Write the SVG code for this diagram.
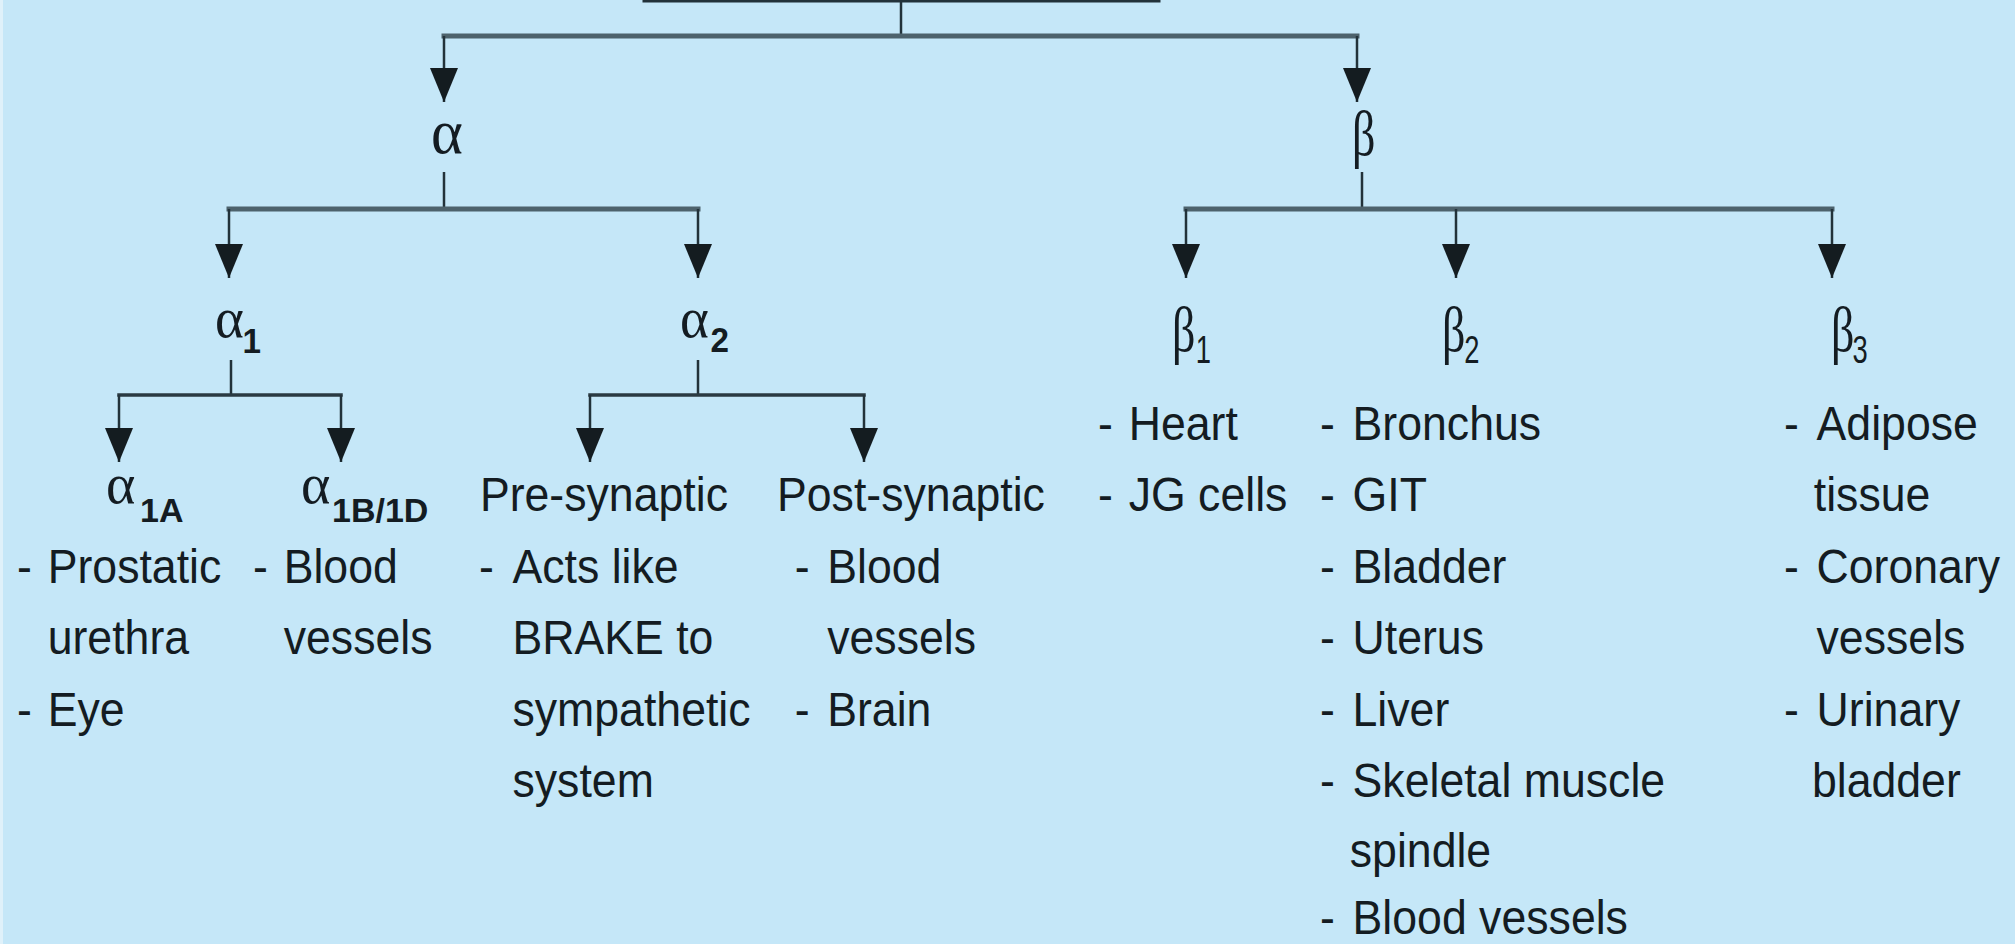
<svg xmlns="http://www.w3.org/2000/svg" xmlns:xlink="http://www.w3.org/1999/xlink" width="2015" height="944" viewBox="0 0 2015 944">
<style>
.bg{fill:#c5e7f8}
.t{font-family:"Liberation Sans",Arial,sans-serif;font-size:48px;fill:#141c22}
.gk{font-family:"Liberation Serif","Times New Roman",serif;fill:#141c22}
.sb{font-family:"Liberation Sans",Arial,sans-serif;font-weight:bold;fill:#141c22}
.sr{font-family:"Liberation Sans",Arial,sans-serif;fill:#141c22}
.thick{stroke:#4d626c;stroke-width:5;fill:none;stroke-linecap:square}
.thin{stroke:#22323a;stroke-width:2.5;fill:none}
.mid{stroke:#2a3a42;stroke-width:3.5;fill:none;stroke-linecap:square}
.box{stroke:#22323a;stroke-width:3;fill:none}
</style>
<defs>
<marker id="arr" viewBox="0 0 34 28" refX="34" refY="14" markerWidth="34" markerHeight="28" markerUnits="userSpaceOnUse" orient="auto">
<path d="M0,0 L34,14 L0,28 Z" fill="#141c20"/>
</marker>
</defs>
<rect class="bg" x="0" y="0" width="2015" height="944"/>
<rect x="0" y="0" width="3" height="944" fill="#dff1fa"/>

<g id="root">
<rect class="box" x="644" y="-60" width="515" height="61"/>
</g>

<g id="connectors">
<path class="thin" d="M901,2 V36"/>
<path class="thick" d="M444,36 H1357"/>
<path class="thin" d="M444,36 V102" marker-end="url(#arr)"/>
<path class="thin" d="M1357,36 V102" marker-end="url(#arr)"/>
<path class="thin" d="M444,172 V209"/>
<path class="thin" d="M1362,172 V209"/>
<path class="thick" d="M229,209 H698"/>
<path class="thick" d="M1186,209 H1832"/>
<path class="thin" d="M229,209 V278" marker-end="url(#arr)"/>
<path class="thin" d="M698,209 V278" marker-end="url(#arr)"/>
<path class="thin" d="M1186,209 V278" marker-end="url(#arr)"/>
<path class="thin" d="M1456,209 V278" marker-end="url(#arr)"/>
<path class="thin" d="M1832,209 V278" marker-end="url(#arr)"/>
<path class="thin" d="M231,360 V395"/>
<path class="thin" d="M698,360 V395"/>
<path class="mid" d="M119,395 H341"/>
<path class="mid" d="M590,395 H864"/>
<path class="thin" d="M119,395 V462" marker-end="url(#arr)"/>
<path class="thin" d="M341,395 V462" marker-end="url(#arr)"/>
<path class="thin" d="M590,395 V462" marker-end="url(#arr)"/>
<path class="thin" d="M864,395 V462" marker-end="url(#arr)"/>
</g>

<g id="alpha">
<text class="gk" font-size="64" transform="matrix(0.95 0 0 1 431 153)">α</text>
</g>
<g id="beta">
<text class="gk" font-size="64" transform="matrix(0.72 0 0 1 1352 155)">β</text>
</g>

<g id="alpha1">
<text class="gk" font-size="58" transform="matrix(0.95 0 0 1 215 337)">α<tspan class="sb" font-size="35" x="29" y="16">1</tspan></text>
</g>
<g id="alpha2">
<text class="gk" font-size="58" transform="matrix(0.95 0 0 1 680 337)">α<tspan class="sb" font-size="35" x="32" y="15">2</tspan></text>
</g>

<g id="alpha1A">
<text class="gk" font-size="56" transform="matrix(1 0 0 1 106 503)">α<tspan class="sb" font-size="34" x="34" y="19">1A</tspan></text>
<g transform="matrix(0.93 0 0 1 17 0)">
<text class="t" x="0" y="583">- <tspan x="33">Prostatic</tspan></text>
<text class="t" x="33" y="654">urethra</text>
<text class="t" x="0" y="726">- <tspan x="33">Eye</tspan></text>
</g>
</g>

<g id="alpha1BD">
<text class="gk" font-size="56" transform="matrix(1 0 0 1 301 503)">α<tspan class="sb" font-size="34" x="31" y="19">1B/1D</tspan></text>
<g transform="matrix(0.93 0 0 1 253 0)">
<text class="t" x="0" y="583">- <tspan x="33">Blood</tspan></text>
<text class="t" x="33" y="654">vessels</text>
</g>
</g>

<g id="presynaptic">
<g transform="matrix(0.93 0 0 1 479 0)">
<text class="t" x="1" y="511">Pre-synaptic</text>
<text class="t" x="0" y="583">- <tspan x="36">Acts like</tspan></text>
<text class="t" x="36" y="654">BRAKE to</text>
<text class="t" x="36" y="726">sympathetic</text>
<text class="t" x="36" y="797">system</text>
</g>
</g>

<g id="postsynaptic">
<g transform="matrix(0.93 0 0 1 777 0)">
<text class="t" x="0" y="511">Post-synaptic</text>
<text class="t" x="19" y="583">- <tspan x="54">Blood</tspan></text>
<text class="t" x="54" y="654">vessels</text>
<text class="t" x="19" y="726">- <tspan x="54">Brain</tspan></text>
</g>
</g>

<g id="beta1">
<text class="gk" font-size="64" transform="matrix(0.72 0 0 1 1172 351)">β<tspan class="sr" font-size="38" x="33" y="12">1</tspan></text>
<g transform="matrix(0.93 0 0 1 1098 0)">
<text class="t" x="0" y="440">- <tspan x="33">Heart</tspan></text>
<text class="t" x="0" y="511">- <tspan x="33">JG cells</tspan></text>
</g>
</g>

<g id="beta2">
<text class="gk" font-size="64" transform="matrix(0.72 0 0 1 1442 351)">β<tspan class="sr" font-size="38" x="31" y="12">2</tspan></text>
<g transform="matrix(0.93 0 0 1 1320 0)">
<text class="t" x="0" y="440">- <tspan x="35">Bronchus</tspan></text>
<text class="t" x="0" y="511">- <tspan x="35">GIT</tspan></text>
<text class="t" x="0" y="583">- <tspan x="35">Bladder</tspan></text>
<text class="t" x="0" y="654">- <tspan x="35">Uterus</tspan></text>
<text class="t" x="0" y="726">- <tspan x="35">Liver</tspan></text>
<text class="t" x="0" y="797">- <tspan x="35">Skeletal muscle</tspan></text>
<text class="t" x="32" y="867">spindle</text>
<text class="t" x="0" y="934">- <tspan x="35">Blood vessels</tspan></text>
</g>
</g>

<g id="beta3">
<text class="gk" font-size="64" transform="matrix(0.72 0 0 1 1831 351)">β<tspan class="sr" font-size="38" x="30" y="12">3</tspan></text>
<g transform="matrix(0.93 0 0 1 1784 0)">
<text class="t" x="0" y="440">- <tspan x="35">Adipose</tspan></text>
<text class="t" x="32" y="511">tissue</text>
<text class="t" x="0" y="583">- <tspan x="35">Coronary</tspan></text>
<text class="t" x="35" y="654">vessels</text>
<text class="t" x="0" y="726">- <tspan x="35">Urinary</tspan></text>
<text class="t" x="30" y="797">bladder</text>
</g>
</g>
</svg>
